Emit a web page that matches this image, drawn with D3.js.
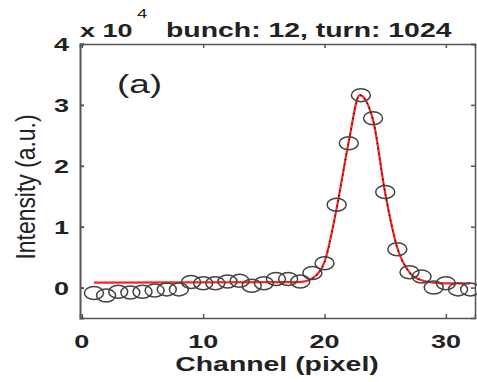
<!DOCTYPE html>
<html>
<head>
<meta charset="utf-8">
<script src="https://cdn.jsdelivr.net/npm/d3@7"></script>
<style>
  body { margin: 0; background: #fff; }
  text { font-family: "Liberation Sans", Arial, sans-serif; fill: #222; }
</style>
</head>
<body>
<div id="chart"></div>
<script>
// measured points (intensity in units of 1e4)
var channels = [1, 2, 3, 4, 5, 6, 7, 8, 9, 10, 11, 12, 13, 14, 15, 16,
                17, 18, 19, 20, 21, 22, 23, 24, 25, 26, 27, 28, 29, 30, 31, 32];
var intensity = [-0.09, -0.13, -0.07, -0.08, -0.07, -0.05, -0.03, -0.03, 0.09, 0.07, 0.07, 0.10, 0.11, 0.03, 0.07, 0.14,
                 0.14, 0.10, 0.24, 0.40, 1.36, 2.37, 3.16, 2.78, 1.57, 0.63, 0.25, 0.18, 0.00, 0.07, -0.03, -0.03];
// fitted curve
var fitChannels = [1, 18, 19, 20, 21, 22, 22.9, 24, 25, 26, 27, 28, 29, 30, 32];
var fitValues = [0.08, 0.09, 0.15, 0.42, 1.30, 2.40, 3.16, 2.75, 1.55, 0.65, 0.25, 0.12, 0.08, 0.07, 0.07];

var xTicks = [0, 10, 20, 30];
var yTicks = [0, 1, 2, 3, 4];
var titleText = "bunch: 12, turn: 1024";

var cfg = { w: 477, h: 382, left: 80, right: 475, top: 44, bottom: 318, stretch: 1.42 };

var svg = d3.select("#chart").append("svg")
    .attr("width", cfg.w)
    .attr("height", cfg.h);

var x = d3.scaleLinear().domain([-0.15, 32.4]).range([cfg.left, cfg.right]);
var y = d3.scaleLinear().domain([-0.5, 4]).range([cfg.bottom, cfg.top]);

// text is stretched sideways in the reference
function label(g, str, tx, ty, size, weight, anchor) {
    return g.append("text")
        .attr("transform", "translate(" + tx + "," + ty + ") scale(" + cfg.stretch + ",1)")
        .attr("text-anchor", anchor || "start")
        .style("font-size", size + "px")
        .style("font-weight", weight || "bold")
        .text(str);
}

// axes
var axisColor = "#555";
svg.append("g")
    .attr("transform", "translate(0," + cfg.bottom + ")")
    .call(d3.axisBottom(x).tickValues(xTicks).tickSize(-4).tickFormat(""))
    .call(function(g) { g.selectAll("line, path").attr("stroke", axisColor).attr("stroke-width", 1.5); });
svg.append("g")
    .attr("transform", "translate(0," + cfg.top + ")")
    .call(d3.axisTop(x).tickValues(xTicks).tickSize(-4).tickFormat(""))
    .call(function(g) { g.selectAll("line, path").attr("stroke", axisColor).attr("stroke-width", 1.5); });
svg.append("g")
    .attr("transform", "translate(" + cfg.left + ",0)")
    .call(d3.axisLeft(y).tickValues(yTicks).tickSize(-4).tickFormat(""))
    .call(function(g) { g.selectAll("line, path").attr("stroke", axisColor).attr("stroke-width", 2); });
svg.append("g")
    .attr("transform", "translate(" + cfg.right + ",0)")
    .call(d3.axisRight(y).tickValues(yTicks).tickSize(-4).tickFormat(""))
    .call(function(g) { g.selectAll("line, path").attr("stroke", axisColor).attr("stroke-width", 1.5); });

// tick labels
var tl = svg.append("g");
xTicks.forEach(function(t) { label(tl, t, x(t), 348, 19, "bold", "middle"); });
yTicks.forEach(function(t) { label(tl, t, 69, y(t) + 7, 19, "bold", "end"); });

// fit line
var line = d3.line()
    .x(function(d) { return x(d[0]); })
    .y(function(d) { return y(d[1]); })
    .curve(d3.curveMonotoneX);
var fit = fitChannels.map(function(c, i) { return [c, fitValues[i]]; });
svg.append("path")
    .datum(fit)
    .attr("d", line)
    .attr("fill", "none")
    .attr("stroke", "#f22")
    .attr("stroke-width", 2.2);
svg.append("path")
    .datum(fit.slice(2, 12))
    .attr("d", line)
    .attr("fill", "none")
    .attr("stroke", "#111")
    .attr("stroke-width", 1.4)
    .attr("stroke-dasharray", "1.2,4");

// data circles
svg.selectAll(".dot")
    .data(channels)
    .enter()
    .append("ellipse")
    .classed("dot", true)
    .attr("cx", function(d) { return x(d); })
    .attr("cy", function(d, i) { return y(intensity[i]); })
    .attr("rx", 9.5)
    .attr("ry", 6.5)
    .attr("fill", "none")
    .attr("stroke", "#444")
    .attr("stroke-width", 1.5);

// titles
label(svg, "x 10", 80, 37, 19, "bold");
label(svg, "4", 137, 18, 13, "normal");
label(svg, titleText, 166, 37, 20, "bold");
label(svg, "(a)", 117, 93, 26, "normal");
label(svg, "Channel (pixel)", 277, 371, 20, "bold", "middle");

svg.append("text")
    .attr("transform", "translate(35,187) scale(" + cfg.stretch + ",1) rotate(-90)")
    .attr("text-anchor", "middle")
    .attr("textLength", 145)
    .attr("lengthAdjust", "spacingAndGlyphs")
    .style("font-size", "19px")
    .text("Intensity (a.u.)");
</script>
</body>
</html>
